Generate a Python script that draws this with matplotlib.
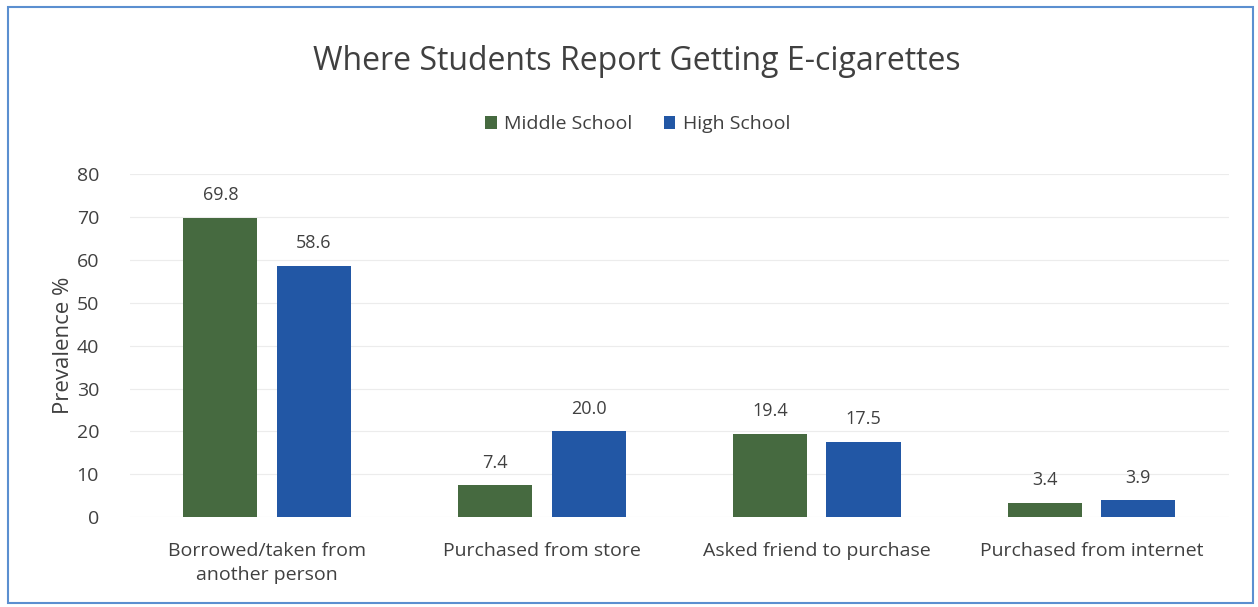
import numpy as np
import matplotlib.pyplot as plt
from matplotlib.patches import Rectangle

categories = ["Borrowed/taken from\nanother person", "Purchased from store",
              "Asked friend to purchase", "Purchased from internet"]
middle = [69.8, 7.4, 19.4, 3.4]
high = [58.6, 20.0, 17.5, 3.9]
yticks = [0, 10, 20, 30, 40, 50, 60, 70, 80]

GREEN, BLUE, TXT = "#466a40", "#2257a5", "#404040"
plt.rcParams["font.family"] = ["Open Sans", "DejaVu Sans"]

fig = plt.figure(figsize=(12.58, 6.07), dpi=100)
ax = fig.add_axes([0.103, 0.148, 0.874, 0.565])
x = np.arange(len(categories))
w, off = 0.27, 0.17
b1 = ax.bar(x - off, middle, w, color=GREEN, label="Middle School")
b2 = ax.bar(x + off, high, w, color=BLUE, label="High School")
for bars, vals in ((b1, middle), (b2, high)):
    for b, v in zip(bars, vals):
        ax.text(b.get_x() + b.get_width() / 2, v + 3.2, f"{v:.1f}",
                ha="center", va="bottom", fontsize=13, color=TXT)

ax.set_xlim(-0.5, 3.5); ax.set_ylim(0, 80)
ax.set_yticks(yticks)
ax.set_xticks(x, categories)
for lab in ax.get_xticklabels():
    lab.set_linespacing(1.45)
ax.tick_params(length=0, labelsize=14, colors=TXT)
ax.tick_params(axis="x", pad=18)
ax.tick_params(axis="y", pad=22)
ax.grid(axis="y", color="#ececec", lw=0.8); ax.set_axisbelow(True)
for s in ax.spines.values():
    s.set_visible(False)
ax.set_ylabel("Prevalence %", fontsize=16, color=TXT, labelpad=2)

fig.text(0.506, 0.898, "Where Students Report Getting E-cigarettes",
         ha="center", va="center", fontsize=23, color=TXT)
fig.legend(loc="center", bbox_to_anchor=(0.507, 0.795), ncol=2, frameon=False,
           fontsize=14, handlelength=0.6, handleheight=0.6, handletextpad=0.4,
           columnspacing=1.6, labelcolor=TXT)
fig.patches.append(Rectangle((0.006, 0.006), 0.99, 0.982, transform=fig.transFigure,
                             fill=False, ec="#5b8fd0", lw=1.5))
fig.savefig("out.png", dpi=100)
